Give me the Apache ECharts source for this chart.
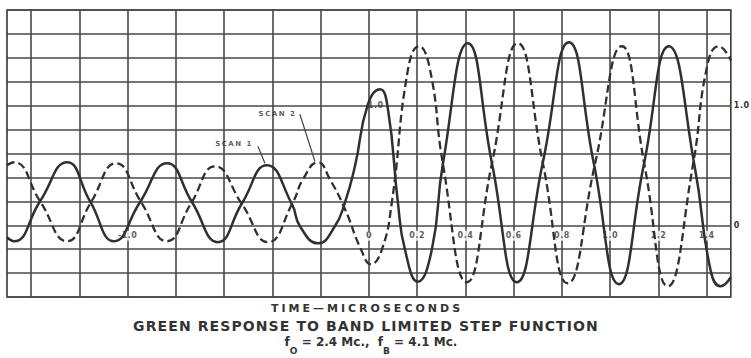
<!DOCTYPE html>
<html><head><meta charset="utf-8">
<script src="https://cdn.jsdelivr.net/npm/echarts@6/dist/echarts.min.js"></script>
<style>
html,body{margin:0;padding:0;background:#fff;}
#chart{width:751px;height:358px;}
#chart text[style*="11px"]{letter-spacing:3px;}
#chart text[style*="14px"]{letter-spacing:1.1px;}
#chart text[style*="7px"]{letter-spacing:1.5px;}
#chart text[style*="8px"]{letter-spacing:0.5px;}
</style></head><body><div id="chart"></div>
<script>
// SCAN 1 (solid) — [time µs, response]
const scan1 = [
  [-1.500,-0.100],[-1.471,-0.134],[-1.363,0.201],[-1.251,0.527],[-1.156,0.201],
  [-1.056,-0.134],[-0.949,0.192],[-0.837,0.518],[-0.733,0.192],[-0.626,-0.142],
  [-0.526,0.184],[-0.423,0.502],[-0.319,0.176],[-0.286,-0.008],[-0.211,-0.151],
  [-0.141,-0.008],[-0.099,0.192],[-0.058,0.493],[-0.004,1.012],[0.046,1.137],
  [0.079,0.970],[0.120,0.192],[0.149,-0.201],[0.203,-0.472],[0.261,-0.201],
  [0.307,0.518],[0.410,1.522],[0.510,0.518],[0.613,-0.477],[0.721,0.527],
  [0.829,1.530],[0.932,0.518],[1.036,-0.493],[1.139,0.502],[1.243,1.497],
  [1.350,0.493],[1.417,-0.385],[1.458,-0.510],[1.500,-0.435]
];
// SCAN 2 (dashed)
const scan2 = [
  [-1.500,0.502],[-1.471,0.527],[-1.363,0.201],[-1.251,-0.134],[-1.152,0.192],
  [-1.048,0.518],[-0.944,0.192],[-0.837,-0.134],[-0.737,0.184],[-0.638,0.493],
  [-0.526,0.176],[-0.418,-0.142],[-0.315,0.192],[-0.273,0.385],[-0.211,0.527],
  [-0.162,0.385],[-0.099,0.134],[-0.033,-0.201],[0.008,-0.326],[0.054,-0.201],
  [0.095,0.192],[0.162,1.304],[0.207,1.497],[0.253,1.304],[0.307,0.510],
  [0.406,-0.477],[0.510,0.518],[0.617,1.522],[0.721,0.518],[0.824,-0.485],
  [0.936,0.502],[1.048,1.497],[1.143,0.493],[1.239,-0.510],[1.342,0.493],
  [1.404,1.350],[1.450,1.497],[1.500,1.380]
];
const gridX = [-1.4,-1.2,-1.0,-0.8,-0.6,-0.4,-0.2,0,0.2,0.4,0.6,0.8,1.0,1.2,1.4];
const xLabelValues = [-1.0,0,0.2,0.4,0.6,0.8,1.0,1.2,1.4];
const yLabelValues = [0,1.0];
const annotNames = ['SCAN 1','SCAN 2','1.0'];
const annotPos = [[-0.559,0.677],[-0.379,0.928],[0.028,1.0]];
const leaderLines = [
  [[-0.460,0.661],[-0.431,0.518]],
  [[-0.286,0.928],[-0.224,0.535]]
];
const titleLines = ['TIME—MICROSECONDS','GREEN RESPONSE TO BAND LIMITED STEP FUNCTION','f{s|O} = 2.4 Mc.,  f{s|B} = 4.1 Mc.'];

const INK = '#333';
const GRID = '#484848';
const FONT = 'DejaVu Sans';
const fmt = v => (Math.abs(v) < 1e-9 ? '0' : v.toFixed(1));

const chart = echarts.init(document.getElementById('chart'), null, {renderer:'svg'});
chart.setOption({
  animation:false,
  backgroundColor:'#fff',
  title:[
    {text:titleLines[0], left:367, top:303, padding:0, textAlign:'center',
     textStyle:{fontSize:11, fontWeight:'bold', fontFamily:FONT, color:INK}},
    {text:titleLines[1], left:366, top:319, padding:0, textAlign:'center',
     textStyle:{fontSize:14, fontWeight:'bold', fontFamily:FONT, color:INK}},
    {text:titleLines[2], left:371, top:328, padding:0, textAlign:'center',
     textStyle:{fontSize:12, fontWeight:'bold', fontFamily:FONT, color:INK,
       rich:{s:{fontSize:9, fontWeight:'bold', fontFamily:FONT, color:INK, padding:[18,0,0,0]}}}}
  ],
  grid:{left:7, right:20, top:10, bottom:61, show:true, borderColor:'#404040', borderWidth:1.7, backgroundColor:'transparent'},
  xAxis:{
    type:'value', min:-1.5, max:1.5,
    axisLine:{show:false},
    axisTick:{show:false},
    splitLine:{show:false},
    axisLabel:{show:false}
  },
  yAxis:{
    type:'value', min:-0.6, max:1.8, interval:0.2, position:'right',
    axisLine:{show:false, onZero:false},
    axisTick:{show:false},
    splitLine:{show:true, lineStyle:{color:GRID, width:1.6}},
    axisLabel:{customValues:yLabelValues, formatter:fmt, margin:3,
      fontSize:8, fontWeight:'bold', fontFamily:FONT, color:INK}
  },
  series:[
    {
      type:'scatter', z:1, silent:true,
      symbolSize:1, itemStyle:{color:'rgba(0,0,0,0)'},
      data: annotNames.map((n,i)=>({name:n, value:annotPos[i],
        label:{fontSize: i<2 ? 7 : 8}})),
      label:{show:true, position:'inside', formatter:'{b}', fontWeight:'bold', fontFamily:FONT, color:INK},
      markLine:{
        z:1, silent:true, symbol:['none','none'], label:{show:false},
        lineStyle:{color:'#444', width:1.2, type:'solid'},
        data:[
          ...gridX.map(x=>({xAxis:x, lineStyle:{color:GRID, width:1.6, type:'solid'}})),
          ...leaderLines.map(l=>[{coord:l[0]},{coord:l[1]}])
        ]
      }
    },
    {
      // tick labels of the time axis, written along the zero line
      type:'scatter', z:2, silent:true,
      symbolSize:1, itemStyle:{color:'rgba(0,0,0,0)'},
      data: xLabelValues.map(v=>({name:fmt(v), value:[v,0]})),
      label:{show:true, position:'bottom', distance:5, formatter:'{b}',
        backgroundColor:'#fff', padding:[1,2,1,2],
        fontSize:8, fontWeight:'bold', fontFamily:FONT, color:INK}
    },
    {
      type:'line', name:'SCAN 1', z:3, silent:true, data:scan1, smooth:0.5,
      showSymbol:false, symbol:'none',
      lineStyle:{color:'#303030', width:2.5}
    },
    {
      type:'line', name:'SCAN 2', z:3, silent:true, data:scan2, smooth:0.5,
      showSymbol:false, symbol:'none',
      lineStyle:{color:'#303030', width:2.3, type:[8,4]}
    }
  ]
});
</script></body></html>
